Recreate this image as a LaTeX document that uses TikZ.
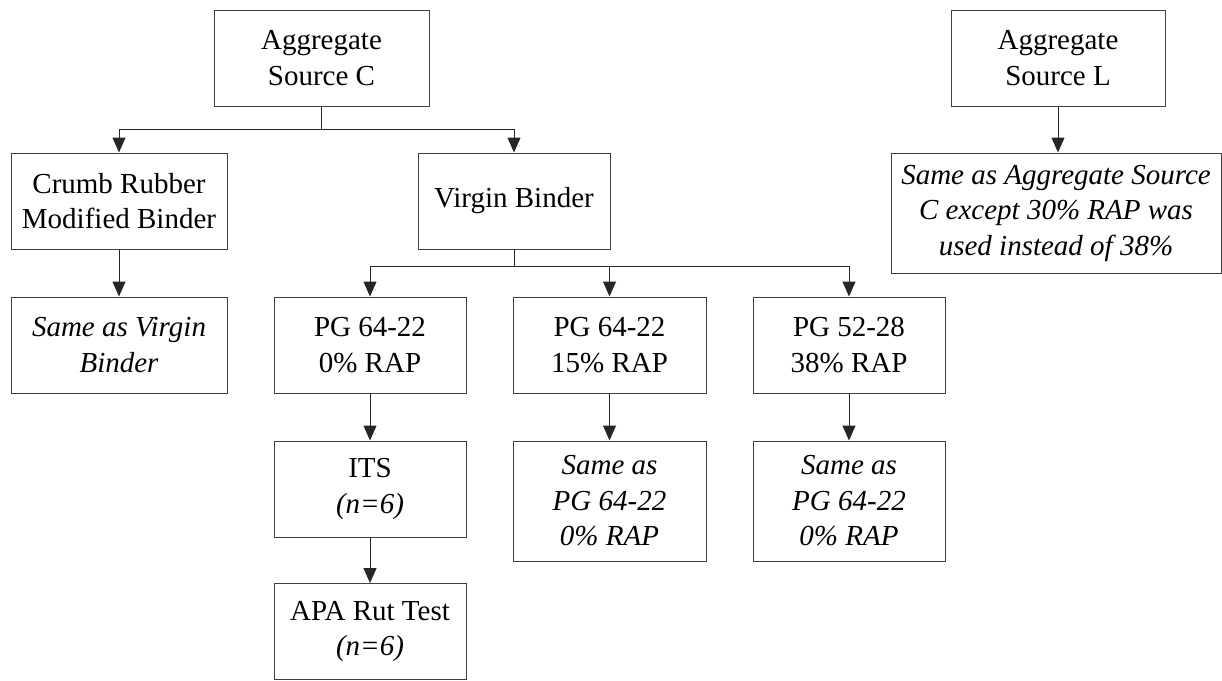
\documentclass[tikz,border=0pt]{standalone}
\usepackage{fontspec}
\setmainfont{Liberation Serif}
\usetikzlibrary{arrows.meta}
\begin{document}
\begin{tikzpicture}[x=1pt, y=-1pt,
  box/.style={draw=black!75, line width=1pt, inner sep=0pt, align=center,
    font=\fontsize{29}{35.5}\selectfont},
  twoline/.style={box, minimum height=96pt},
  threeline/.style={box, minimum height=120pt},
  note/.style={font=\fontsize{29}{35.5}\selectfont\itshape},
  link/.style={line width=1pt, draw=black!85},
  arr/.style={link, -{Triangle[length=15pt, width=13pt]}}]
\useasboundingbox (0,0) rectangle (1222,680);

% top level sources
\node[twoline, minimum width=215pt] (aggC) at (321.5,58) {Aggregate\\Source C};
\node[twoline, minimum width=214pt] (aggL) at (1058,58) {Aggregate\\Source L};

% binder types
\node[twoline, minimum width=216pt] (crumb) at (119,201) {Crumb Rubber\\Modified Binder};
\node[twoline, minimum width=192pt] (virgin) at (514,201) {Virgin Binder};
\node[threeline, minimum width=330pt, note] (sameL) at (1056,213)
  {Same as Aggregate Source\\C except 30\% RAP was\\used instead of 38\%};

% binder grades
\node[twoline, minimum width=216pt, note] (sameVB) at (119,345) {Same as Virgin\\Binder};
\node[twoline, minimum width=192pt] (pg0) at (370,345) {PG 64-22\\0\% RAP};
\node[twoline, minimum width=193pt] (pg15) at (609.5,345) {PG 64-22\\15\% RAP};
\node[twoline, minimum width=192pt] (pg38) at (849,345) {PG 52-28\\38\% RAP};

% tests
\node[twoline, minimum width=192pt] (its) at (370,489) {ITS\\\textit{(n=6)}};
\node[twoline, minimum width=192pt] (apa) at (370,631.5) {APA Rut Test\\\textit{(n=6)}};
\node[threeline, minimum width=193pt, note] (same15) at (609.5,501) {Same as\\PG 64-22\\0\% RAP};
\node[threeline, minimum width=192pt, note] (same38) at (849,501) {Same as\\PG 64-22\\0\% RAP};

% branching connectors
\coordinate (jC) at (aggC.south |- 0,129);
\draw[link] (aggC.south) -- (jC);
\draw[arr] (jC) -| (crumb.north);
\draw[arr] (jC) -| (virgin.north);

\coordinate (jV) at (virgin.south |- 0,266);
\draw[link] (virgin.south) -- (jV);
\draw[arr] (jV) -| (pg0.north);
\draw[arr] (jV) -| (pg15.north);
\draw[arr] (jV) -| (pg38.north);

% straight connectors
\draw[arr] (aggL.south) -- (aggL.south |- sameL.north);
\draw[arr] (crumb.south) -- (sameVB.north);
\draw[arr] (pg0.south) -- (its.north);
\draw[arr] (its.south) -- (apa.north);
\draw[arr] (pg15.south) -- (same15.north);
\draw[arr] (pg38.south) -- (same38.north);
\end{tikzpicture}
\end{document}
